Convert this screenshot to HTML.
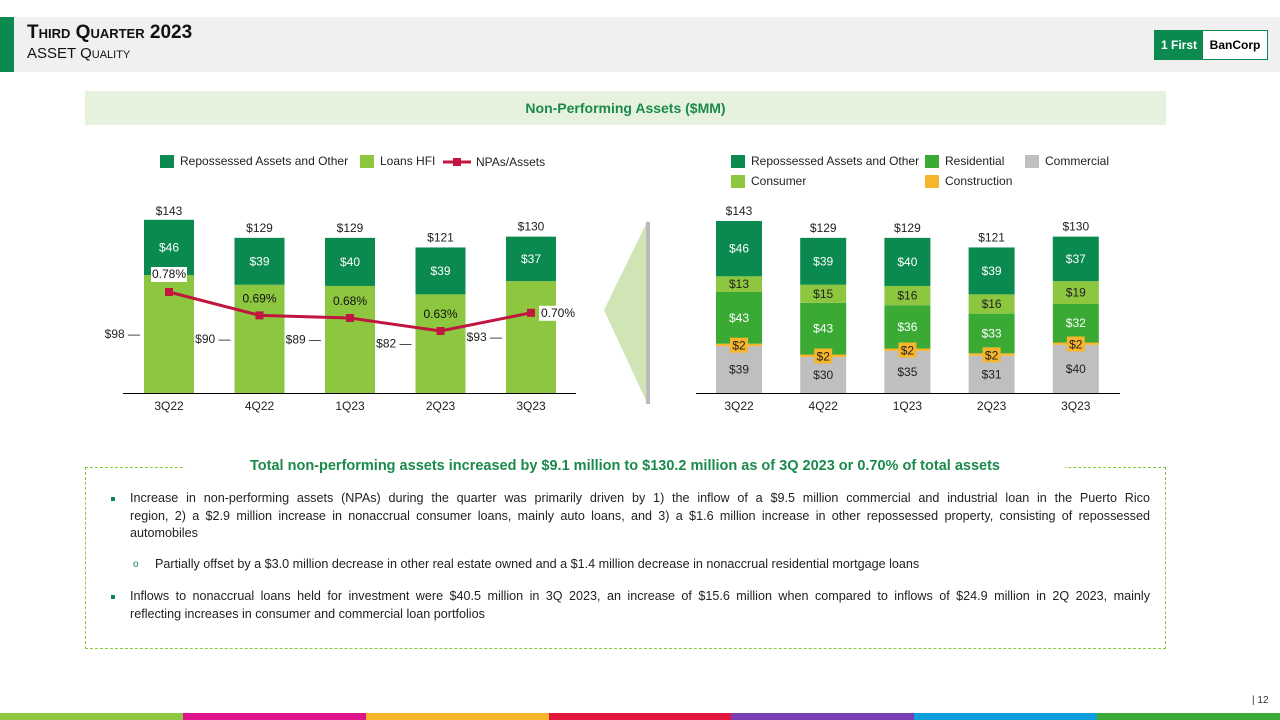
<!DOCTYPE html>
<html><head><meta charset="utf-8"><style>
body{margin:0;width:1280px;height:720px;position:relative;background:#fff;font-family:"Liberation Sans",sans-serif;overflow:hidden}
.abs{position:absolute}
.bul{position:absolute;left:130px;width:1020px;font-size:12.6px;line-height:17.5px;color:#222}
.bul .j{text-align:justify;text-align-last:justify;white-space:nowrap}
.mk{position:absolute;left:-19px;top:7px;width:4px;height:4px;background:#0a8a4f}
</style></head><body>
<div class="abs" style="left:0;top:17px;width:1280px;height:55px;background:#f0f0f0"></div>
<div class="abs" style="left:0;top:17px;width:14px;height:55px;background:#0a8a4f"></div>
<div class="abs" style="left:27px;top:22px;font-size:19px;font-weight:bold;font-variant:small-caps;color:#111">Third Quarter 2023</div>
<div class="abs" style="left:27px;top:45px;font-size:15px;font-variant:small-caps;color:#111">ASSET Quality</div>
<div class="abs" style="left:1154px;top:30px;width:112px;height:28px;border:1px solid #0a8a4f;display:flex;font-weight:bold;font-size:12px">
<div style="background:#0a8a4f;color:#fff;width:48px;display:flex;align-items:center;justify-content:center">1 First</div>
<div style="background:#fff;color:#000;flex:1;display:flex;align-items:center;justify-content:center">BanCorp</div></div>
<div class="abs" style="left:85px;top:91px;width:1081px;height:34px;background:#e6f2dd;color:#1a8a4c;font-weight:bold;font-size:14px;display:flex;align-items:center;justify-content:center">Non-Performing Assets ($MM)</div>

<svg class="abs" style="left:0;top:0" width="1280" height="720" id="chart">
<polygon points="648,220 604,310 648,405" fill="#cfe5b6"/>
<rect x="646" y="222" width="4" height="182" fill="#bbb"/>
</svg>

<div class="abs" style="left:85px;top:467px;width:1079px;height:180px;border:1px dashed #8dc63f"></div>
<div class="abs" style="left:185px;top:458px;width:880px;background:#fff;text-align:center;color:#1a8a4c;font-weight:bold;font-size:14.5px">Total non-performing assets increased by $9.1 million to $130.2 million as of 3Q 2023 or 0.70% of total assets</div>
<div class="bul" style="top:490px"><span class="mk"></span><div class="j">Increase in non-performing assets (NPAs) during the quarter was primarily driven by 1) the inflow of a $9.5 million commercial and industrial loan in the Puerto Rico</div><div class="j">region, 2) a $2.9 million increase in nonaccrual consumer loans, mainly auto loans, and 3) a $1.6 million increase in other repossessed property, consisting of repossessed</div><div>automobiles</div></div>
<div class="bul" style="top:556px;left:155px;width:990px"><span style="position:absolute;left:-22px;color:#0a8a4f;font-size:10px">o</span>Partially offset by a $3.0 million decrease in other real estate owned and a $1.4 million decrease in nonaccrual residential mortgage loans</div>
<div class="bul" style="top:588px"><span class="mk"></span><div class="j">Inflows to nonaccrual loans held for investment were $40.5 million in 3Q 2023, an increase of $15.6 million when compared to inflows of $24.9 million in 2Q 2023, mainly</div><div>reflecting increases in consumer and commercial loan portfolios</div></div>

<div class="abs" style="left:1252px;top:695px;font-size:10px;color:#333">| 12</div>
<div class="abs" style="left:0;top:713px;width:1280px;height:7px;display:flex">
<div style="flex:1;background:#8dc63f"></div><div style="flex:1;background:#e0148c"></div><div style="flex:1;background:#f7b52b"></div><div style="flex:1;background:#e3173e"></div><div style="flex:1;background:#7b3fb5"></div><div style="flex:1;background:#0c9fdc"></div><div style="flex:1;background:#3aaa35"></div></div>

<script>
const categories=["3Q22","4Q22","1Q23","2Q23","3Q23"];
const loansHFI=[98,90,89,82,93];
const repossessedL=[46,39,40,39,37];
const totals=[143,129,129,121,130];
const npaPct=[0.78,0.69,0.68,0.63,0.70];
const commercial=[39,30,35,31,40];
const construction=[2,2,2,2,2];
const residential=[43,43,36,33,32];
const consumer=[13,15,16,16,19];
const repossessedR=[46,39,40,39,37];

const NS="http://www.w3.org/2000/svg";
const svg=document.getElementById('chart');
const base=393, k=172/143;
const yv=v=>base-v*k;
const xL=i=>169+i*90.5, xR=i=>739+i*84.2;
const yP=p=>292+(0.78-p)*260;
function el(t,a,name,txt){const e=document.createElementNS(NS,t);for(const q in a)e.setAttribute(q,a[q]);


if(txt!==undefined)e.textContent=txt;svg.appendChild(e);return e;}
function txt(x,y,s,name,fill,anchor){return el('text',{x:x,y:y,'font-size':12,fill:fill||'#222','text-anchor':anchor||'middle','font-family':'Liberation Sans, sans-serif'},name,s);}
const DK='#0a8a4f',LG='#8dc63f',RS='#3aaa35',GR='#bfbfbf',OR='#f7b52b',RED='#c0163f';

function leg(x,y,c,label,name){el('rect',{x:x,y:y-6,width:14,height:13,fill:c},name+'-swatch');txt(x+20,y+4,label,name,'#222','start');}
leg(160,161,DK,'Repossessed Assets and Other','legend-repossessed-left');
leg(360,161,LG,'Loans HFI','legend-loans-hfi');
el('line',{x1:443,y1:162,x2:471,y2:162,stroke:RED,'stroke-width':3},'legend-npa-line');
el('rect',{x:453,y:158,width:8,height:8,fill:RED},'legend-npa-marker');
txt(476,166,'NPAs/Assets','legend-npa-label','#222','start');
leg(731,161,DK,'Repossessed Assets and Other','legend-repossessed-right');
leg(925,161,RS,'Residential','legend-residential');
leg(1025,161,GR,'Commercial','legend-commercial');
leg(731,181,LG,'Consumer','legend-consumer');
leg(925,181,OR,'Construction','legend-construction');

const bw=50;
categories.forEach((c,i)=>{
 const x=xL(i)-bw/2;
 el('rect',{x:x,y:yv(loansHFI[i]),width:bw,height:loansHFI[i]*k,fill:LG},'bar-loans-hfi-'+c);
 el('rect',{x:x,y:yv(loansHFI[i]+repossessedL[i]),width:bw,height:repossessedL[i]*k,fill:DK},'bar-repossessed-'+c);
 txt(xL(i),yv(loansHFI[i]+repossessedL[i]/2)+4,'$'+repossessedL[i],'label-repossessed-'+c,'#fff');
 txt(xL(i),yv(totals[i])-6,'$'+totals[i],'label-total-left-'+c);
 txt(x-4,yv(loansHFI[i]/2)+4,'$'+loansHFI[i]+' —','label-loans-hfi-'+c,'#222','end');
 txt(xL(i),410,c,'x-label-left-'+c);
});
el('line',{x1:123,y1:393.5,x2:576,y2:393.5,stroke:'#000','stroke-width':1},'x-axis-left');
let pts=categories.map((c,i)=>xL(i)+','+yP(npaPct[i])).join(' ');
el('polyline',{points:pts,fill:'none',stroke:RED,'stroke-width':3},'npa-line');
categories.forEach((c,i)=>{
 el('rect',{x:xL(i)-4,y:yP(npaPct[i])-4,width:8,height:8,fill:RED},'npa-point-'+c);
 let lx=xL(i),ly=yP(npaPct[i])-13,anc='middle';
 if(i==0){ly=yP(npaPct[i])-14;}
 else if(i==4){lx=xL(i)+10;ly=yP(npaPct[i])+4;anc='start';}
 if(i==0||i==4){const w=36;el('rect',{x:anc=='start'?lx-2:lx-w/2,y:ly-11,width:w,height:15,fill:'#fff'},'npa-label-bg-'+c);}
 txt(lx,ly,npaPct[i].toFixed(2)+'%','npa-label-'+c,'#111',anc);
});

const bw2=46;
const segs=[[commercial,GR,'commercial','#222'],[construction,OR,'construction','#222'],[residential,RS,'residential','#fff'],[consumer,LG,'consumer','#222'],[repossessedR,DK,'repossessed','#fff']];
categories.forEach((c,i)=>{
 let cum=0;const x=xR(i)-bw2/2;
 segs.forEach(s=>{
  const v=s[0][i];
  el('rect',{x:x,y:yv(cum+v),width:bw2,height:v*k,fill:s[1]},'bar-'+s[2]+'-'+c);
  cum+=v;
 });
});
categories.forEach((c,i)=>{
 let cum=0;
 segs.forEach(s=>{
  const v=s[0][i];
  if(s[2]=='construction'){
   el('rect',{x:xR(i)-9,y:yv(cum+v)-6,width:18,height:15,fill:OR},'label-bg-construction-'+c);
   txt(xR(i),yv(cum+v)+6,'$'+v,'label-construction-'+c,'#222');
  } else txt(xR(i),yv(cum+v/2)+4,'$'+v,'label-'+s[2]+'-'+c,s[3]);
  cum+=v;
 });
 txt(xR(i),yv(totals[i])-6,'$'+totals[i],'label-total-right-'+c);
 txt(xR(i),410,c,'x-label-right-'+c);
});
el('line',{x1:696,y1:393.5,x2:1120,y2:393.5,stroke:'#000','stroke-width':1},'x-axis-right');
</script>
</body></html>
